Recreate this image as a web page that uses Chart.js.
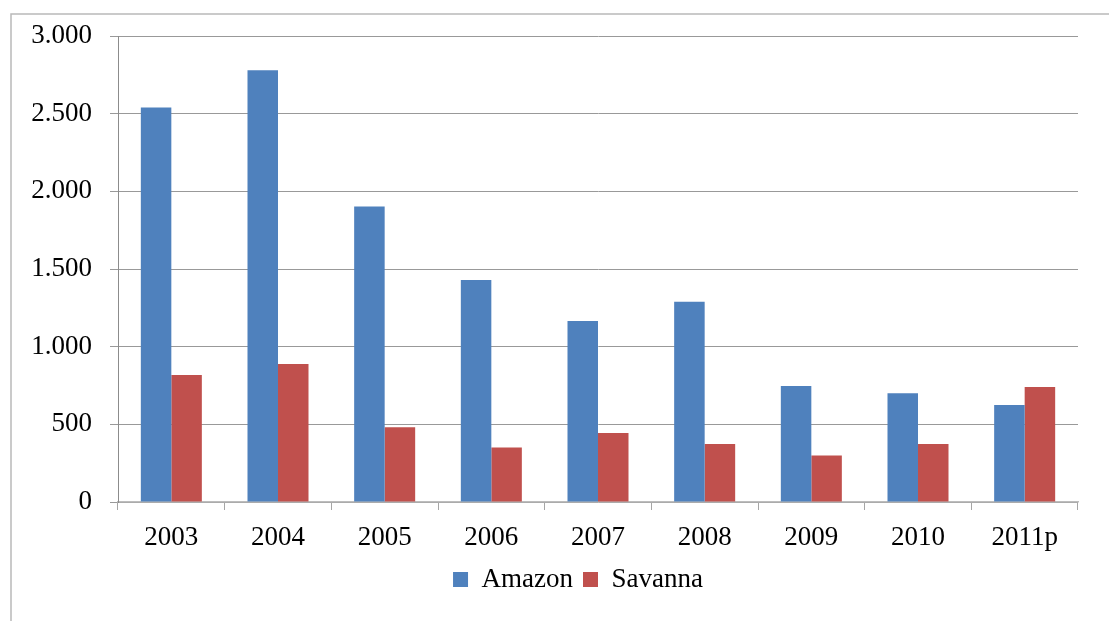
<!DOCTYPE html>
<html lang="en">
<head>
  <meta charset="UTF-8" />
  <title>Amazon vs Savanna</title>
  <script src="https://cdn.jsdelivr.net/npm/chart.js"></script>
  <style>
    html, body { margin: 0; padding: 0; background: #fff; }
    #wrap { width: 1109px; height: 621px; position: relative; }
  </style>
</head>
<body>
  <div id="wrap">
    <canvas id="grafica" width="1109" height="621"></canvas>
  </div>

  <script>
    // datos
    const anios = ["2003", "2004", "2005", "2006", "2007", "2008", "2009", "2010", "2011p"];
    const amazon = [2540, 2779, 1903, 1429, 1165, 1289, 747, 700, 624];
    const savanna = [818, 889, 482, 351, 445, 374, 300, 373, 740];
    const ticksY = [0, 500, 1000, 1500, 2000, 2500, 3000];

    const fuente = { family: "'Liberation Serif', serif", size: 27 };

    // marco gris alrededor del grafico
    const marco = {
      id: "marco",
      beforeDraw(chart) {
        const ctx = chart.ctx;
        ctx.save();
        ctx.strokeStyle = "#b9b9b9";
        ctx.lineWidth = 1.5;
        ctx.strokeRect(11, 14, 1200, 700);
        ctx.restore();
      }
    };

    // mover la leyenda un poco a la derecha, como en el original
    const leyendaCentrada = {
      id: "leyendaCentrada",
      afterLayout(chart) {
        chart.legend.left = 78;
        chart.legend.right = 1078;
      }
    };

    new Chart(document.getElementById("grafica"), {
      type: "bar",
      data: {
        labels: anios,
        datasets: [
          { label: "Amazon", data: amazon, backgroundColor: "#4f81bd", borderWidth: 0 },
          { label: "Savanna", data: savanna, backgroundColor: "#c0504d", borderWidth: 0 }
        ]
      },
      options: {
        responsive: false,
        animation: false,
        events: [],
        categoryPercentage: 0.572,
        barPercentage: 1.0,
        layout: { padding: { top: 36, right: 31, bottom: 18, left: 0 } },
        plugins: {
          tooltip: { enabled: false },
          legend: {
            position: "bottom",
            labels: {
              color: "#000",
              font: fuente,
              boxWidth: 15,
              boxHeight: 15,
              padding: 10
            }
          }
        },
        scales: {
          x: {
            afterFit(scale) { scale.height = 54; },
            grid: {
              offset: true,
              drawOnChartArea: false,
              drawTicks: true,
              tickLength: 8,
              color: "#a6a6a6",
              lineWidth: 1
            },
            border: { color: "#bdbdbd", width: 1.5 },
            ticks: { color: "#000", font: fuente, padding: 12, maxRotation: 0 }
          },
          y: {
            min: 0,
            max: 3000,
            afterFit(scale) { scale.width = 118; },
            afterBuildTicks(scale) { scale.ticks = ticksY.map(v => ({ value: v })); },
            grid: {
              color: "#999",
              lineWidth: 1,
              tickLength: 8
            },
            border: { color: "#8c8c8c", width: 1 },
            ticks: {
              color: "#000",
              font: fuente,
              padding: 18,
              callback: v => v.toLocaleString("de-DE")
            }
          }
        }
      },
      plugins: [marco, leyendaCentrada]
    });
  </script>
</body>
</html>
